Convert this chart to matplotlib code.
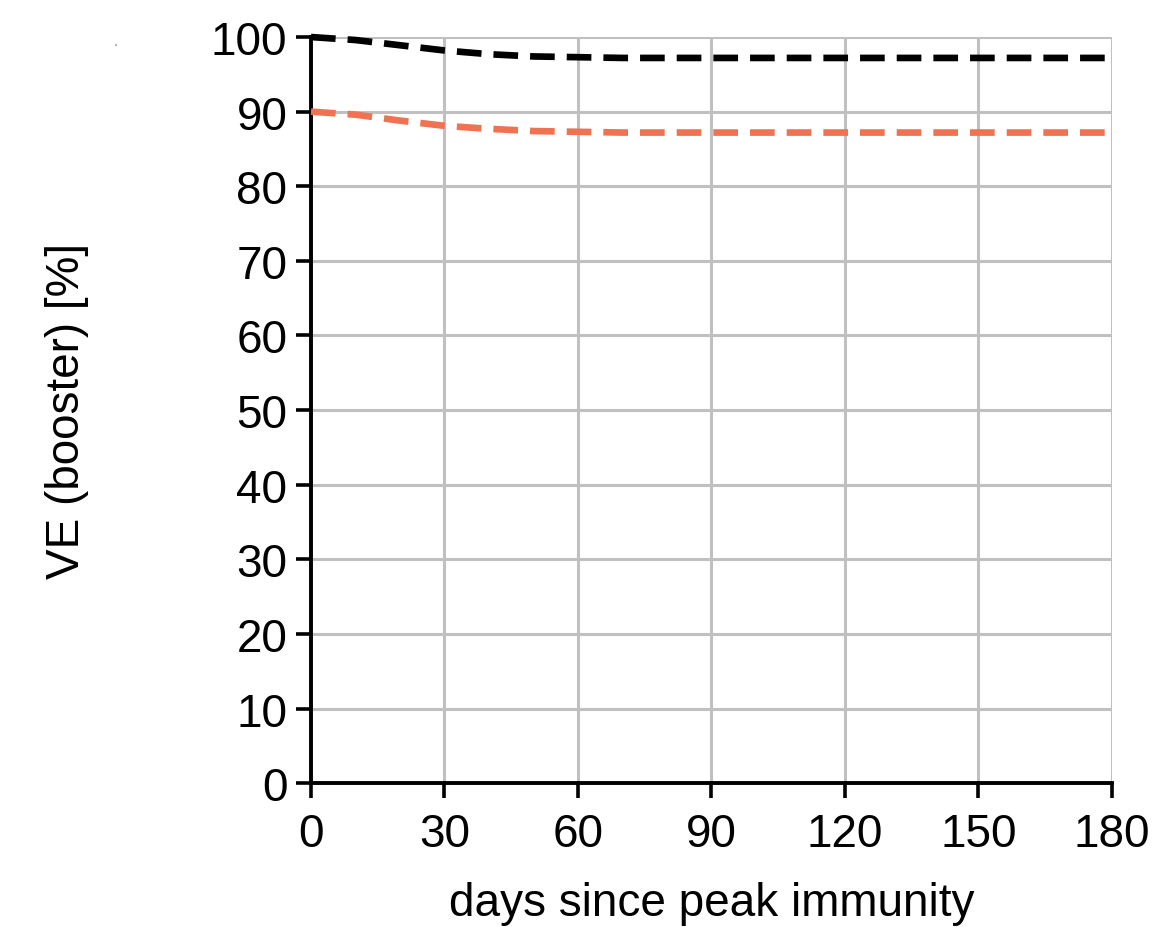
import matplotlib
matplotlib.use("Agg")
import matplotlib.pyplot as plt

days = [0, 10, 20, 30, 40, 50, 60, 70, 80, 90, 100, 110, 120, 130, 140, 150, 160, 170, 180]
ve_black = [100, 99.6, 98.9, 98.2, 97.7, 97.4, 97.3, 97.2, 97.2, 97.2, 97.2, 97.2, 97.2, 97.2, 97.2, 97.2, 97.2, 97.2, 97.2]
ve_orange = [90, 89.6, 88.8, 88.1, 87.7, 87.4, 87.3, 87.2, 87.2, 87.2, 87.2, 87.2, 87.2, 87.2, 87.2, 87.2, 87.2, 87.2, 87.2]
xticks = [0, 30, 60, 90, 120, 150, 180]
yticks = [0, 10, 20, 30, 40, 50, 60, 70, 80, 90, 100]

plt.rcParams['font.family'] = ['Liberation Sans', 'DejaVu Sans']

fig = plt.figure(figsize=(11.63, 9.28), dpi=100)
ax = fig.add_axes([0.2674, 0.155, 0.956 - 0.2674, 0.959 - 0.155])

ax.plot(days, ve_black, color='black', lw=4.8, linestyle=(0, (3.7, 1.8)), zorder=3, clip_on=False)
ax.plot(days, ve_orange, color='#EF7252', lw=4.8, linestyle=(0, (3.7, 1.8)), zorder=3, clip_on=False)

ax.set_xlim(0, 180)
ax.set_ylim(0, 100)
ax.set_xticks(xticks)
ax.set_yticks(yticks)
ax.grid(True, color='#c0c0c0', lw=2.2, zorder=0)
ax.set_axisbelow(True)
for s in ['top', 'right']:
    ax.spines[s].set_visible(False)
for s in ['left', 'bottom']:
    ax.spines[s].set_linewidth(2.8)
    ax.spines[s].set_color('black')
ax.tick_params(axis='both', labelsize=33, length=11, width=2.6, direction='out', pad=6)
ax.tick_params(axis='x', pad=10)

ax.set_xlabel('days since peak immunity', fontsize=33, labelpad=18)
ax.set_ylabel('VE (booster) [%]', fontsize=33, labelpad=88)

fig.text(0.098, 0.944, "'", fontsize=8, color='#555555')

fig.savefig('out.png', dpi=100)
